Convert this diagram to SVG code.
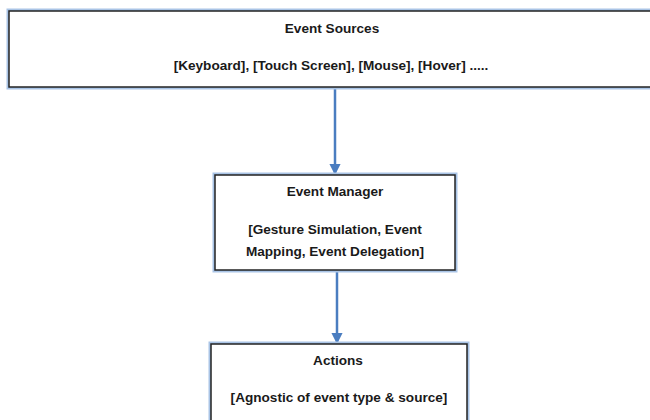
<svg xmlns="http://www.w3.org/2000/svg" width="650" height="420" viewBox="0 0 650 420">
<defs>
<marker id="ah" viewBox="0 0 10 10" refX="9" refY="5" markerWidth="4.5" markerHeight="4.5" orient="auto" markerUnits="strokeWidth">
<path d="M0,0 L10,5 L0,10 z" fill="#4a7dc0"/>
</marker>
</defs>
<style>
.glow{fill:none;stroke:#a9c4e6;stroke-width:5}
.box{fill:#ffffff;stroke:#222222;stroke-width:1.5}
.t{font-family:"Liberation Sans","DejaVu Sans",sans-serif;font-size:13.6px;font-weight:bold;fill:#1a1a1a;text-anchor:middle}
.c{stroke:#4a7dc0;stroke-width:2.5;fill:none}
</style>
<rect width="650" height="420" fill="#ffffff"/>
<g id="connectors">
<line class="c" x1="335" y1="88" x2="335" y2="174" marker-end="url(#ah)"/>
<line class="c" x1="337" y1="271" x2="337" y2="343" marker-end="url(#ah)"/>
</g>
<g id="event-sources">
<rect class="glow" x="9" y="11" width="650" height="76"/>
<rect class="box" x="9" y="11" width="650" height="76"/>
<text class="t" x="332" y="33">Event Sources</text>
<text class="t" x="331" y="70">[Keyboard], [Touch Screen], [Mouse], [Hover] .....</text>
</g>
<g id="event-manager">
<rect class="glow" x="215" y="175" width="240" height="95"/>
<rect class="box" x="215" y="175" width="240" height="95"/>
<text class="t" x="335" y="196">Event Manager</text>
<text class="t" x="335" y="234">[Gesture Simulation, Event</text>
<text class="t" x="335" y="256">Mapping, Event Delegation]</text>
</g>
<g id="actions">
<rect class="glow" x="211" y="344" width="256" height="90"/>
<rect class="box" x="211" y="344" width="256" height="90"/>
<text class="t" x="338" y="365">Actions</text>
<text class="t" x="339" y="402">[Agnostic of event type &amp; source]</text>
</g>
</svg>
